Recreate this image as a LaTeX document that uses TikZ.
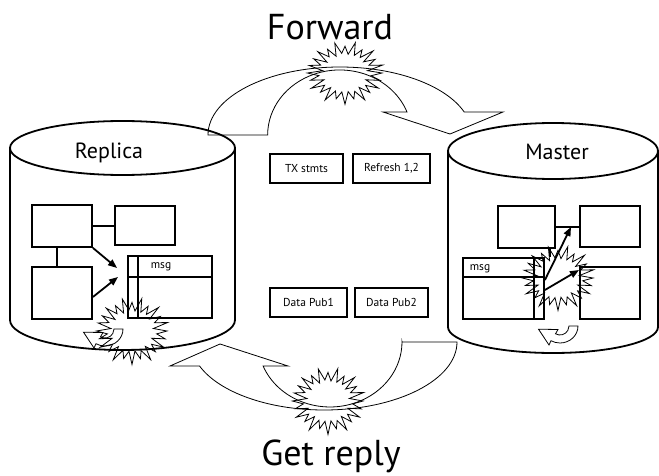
\documentclass[tikz,border=0pt]{standalone}
\usepackage{fontspec}
\setmainfont{PT Sans}
\usetikzlibrary{arrows.meta}

% Jagged burst outline: centre x, centre y, x radius, y radius
\newcommand\drawburst[4]{%
  \draw[line width=0.8pt,line join=miter]
    plot[samples=48,domain=0:47,variable=\k]
    ({#1+#3*(1-0.34*mod(round(\k),2))*(1+0.08*sin(\k*97))*cos(\k*7.5)},
     {#2+#4*(1-0.34*mod(round(\k),2))*(1+0.08*sin(\k*97))*sin(\k*7.5)}) -- cycle;
}

\begin{document}
\begin{tikzpicture}[x=1pt,y=-1pt,
  outline/.style={line width=1.8pt},
  box/.style={draw,line width=1.8pt,inner sep=0pt},
  tag/.style={draw,line width=1.8pt,inner sep=0pt,minimum height=29pt,font=\fontsize{11.5}{13}\selectfont},
  small/.style={font=\fontsize{11.5}{13}\selectfont,inner sep=0pt},
  dbname/.style={font=\fontsize{22}{25}\selectfont,inner sep=0pt},
  title/.style={font=\fontsize{36}{40}\selectfont,inner sep=0pt,anchor=base},
  blockarrow/.style={draw,line width=0.8pt,line join=miter},
  link/.style={line width=1.8pt},
  push/.style={line width=1.8pt,-{Triangle[length=9pt,width=7pt]}},
  uturn/.pic={
    \draw[line width=0.8pt,line join=miter] (9,0) -- (18,0)
      arc[start angle=0,end angle=120,x radius=18,y radius=17]
      -- (-11,19) -- (-21.5,3.2) -- (-2,3.5) -- (-4.5,7.8)
      arc[start angle=120,end angle=0,radius=9] -- cycle;
  },
]
\useasboundingbox (0,0) rectangle (659,476);

% Replica cylinder
\draw[outline] (10,148) -- (10,320)
  arc[start angle=180,end angle=0,x radius=112.5,y radius=30] -- (235,148);
\draw[outline] (122.5,148) ellipse[x radius=112.5,y radius=27];
\node[dbname] (replica) at (109,153) {Replica};

% Master cylinder
\draw[outline] (448,151) -- (448,327)
  arc[start angle=180,end angle=0,x radius=105,y radius=26] -- (658,151);
\draw[outline] (553,151) ellipse[x radius=105,y radius=28];
\node[dbname] (master) at (557,152) {Master};

% Replica contents
\node[box,minimum width=60pt,minimum height=42pt] (r1) at (62,226) {};
\node[box,minimum width=60pt,minimum height=39pt] (r2) at (145,225.5) {};
\node[box,minimum width=60pt,minimum height=52pt] (r3) at (62,293) {};
\node[box,minimum width=84pt,minimum height=62pt] (rmsg) at (170,287) {};
\draw[link] ([xshift=11pt]rmsg.north west) -- ([xshift=11pt]rmsg.south west);
\draw[link] ([yshift=-22pt]rmsg.north west) -- ([yshift=-22pt]rmsg.north east);
\node[small] (rmsglabel) at (161,267) {msg};
\draw[link] (r1.east) -- (r1.east -| r2.west);
\draw[link] ([xshift=-5pt]r1.south) -- ([xshift=-5pt]r1.south |- r3.north);
\coordinate (rin1) at (117,268);
\coordinate (rin2) at (118,277);
\draw[push] (r1.south east) -- (rin1);
\draw[push] ([yshift=-4pt]r3.east) -- (rin2);

% Master contents
\node[box,minimum width=57pt,minimum height=42pt] (mA) at (526.5,227) {};
\node[box,minimum width=60pt,minimum height=41pt] (mB) at (610,226.5) {};
\node[box,minimum width=60pt,minimum height=52pt] (mC) at (610,293) {};
\node[box,minimum width=81pt,minimum height=61pt] (mmsg) at (503.5,288.5) {};
\draw[link] ([xshift=-11pt]mmsg.north east) -- ([xshift=-11pt]mmsg.south east);
\draw[link] ([yshift=-20pt]mmsg.north west) -- ([yshift=-20pt]mmsg.north east);
\node[small] (mmsglabel) at (480,269) {msg};
\draw[link] (mA.east) -- (mA.east -| mB.west);
\coordinate (mstub) at (550,257);
\draw[line width=1.2pt] (mstub |- mA.south) -- (mstub);
\coordinate (mt1) at (571,227);
\coordinate (mt2) at (579,270);
\draw[push] ([yshift=8.5pt]mmsg.east) -- (mt1);
\draw[push] ([yshift=-1.5pt]mmsg.east) -- (mt2);

% Message tags between the databases
\node[tag,minimum width=73pt] (tx) at (306.5,168.5) {TX stmts};
\node[tag,minimum width=77pt] (refresh) at (391.5,168.5) {Refresh 1,2};
\node[tag,minimum width=77pt] (pub1) at (308.5,302.5) {Data Pub1};
\node[tag,minimum width=73pt] (pub2) at (391.5,302.5) {Data Pub2};

% Forward arrow (top)
\draw[blockarrow] (208,135)
  arc[start angle=180,end angle=340.2,x radius=132,y radius=68]
  -- (503,112) -- (450,134) -- (383,112) -- (407,112)
  arc[start angle=339.3,end angle=180,x radius=72,y radius=65] -- cycle;

% Reply arrow (bottom)
\draw[blockarrow] (402,342) -- (457,342)
  arc[start angle=0,end angle=159.3,x radius=133,y radius=68]
  -- (170,366) -- (220,344) -- (288,366) -- (263.1,366)
  arc[start angle=158.3,end angle=0,x radius=72,y radius=65] -- cycle;

% Bursts
\drawburst{345}{73}{37}{29}
\drawburst{328}{401}{35}{31}
\drawburst{132}{331}{35}{31}
\drawburst{558}{278}{35}{30}

% Loop marks
\pic at (105,329) {uturn};
\pic at (560,326) {uturn};

% Titles
\node[title] (fwd) at (330,40) {Forward};
\node[title] (reply) at (331,465) {Get reply};
\end{tikzpicture}
\end{document}
